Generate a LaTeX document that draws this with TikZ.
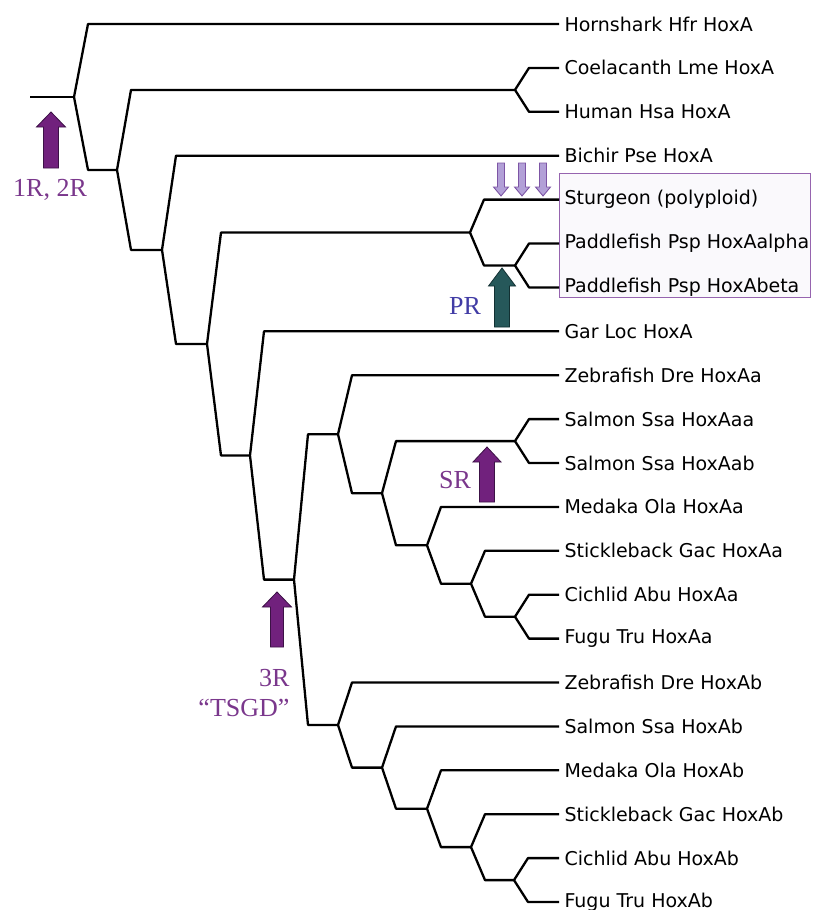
\documentclass[tikz,border=0pt]{standalone}
\usepackage{fontspec}
\usetikzlibrary{calc}
\newfontfamily\leaffont{DejaVu Sans}
\newfontfamily\dupfont{Liberation Serif}

\definecolor{dupviolet}{RGB}{113,33,125}
\definecolor{dupedge}{RGB}{60,18,70}
\definecolor{duptext}{RGB}{122,55,140}
\definecolor{prtext}{RGB}{65,60,165}
\definecolor{prteal}{RGB}{38,88,90}
\definecolor{predge}{RGB}{18,48,50}
\definecolor{polyfill}{RGB}{178,160,215}
\definecolor{polyedge}{RGB}{125,85,165}
\definecolor{boxedge}{RGB}{150,100,175}
\definecolor{boxfill}{RGB}{250,249,252}

\tikzset{
  tree/.style={line width=2.3pt, line join=round},
  branch/.style={to path={-- ($(\tikztostart |- \tikztotarget)+(14,0)$) -- (\tikztotarget)}},
  leaf/.style={anchor=west, inner xsep=5.5pt, inner ysep=0pt, outer sep=0pt,
    font=\leaffont\fontsize{19}{22}\selectfont},
  duplabel/.style={font=\dupfont\fontsize{26}{30}\selectfont, text=duptext, align=center},
  purplearrow/.style={fill=dupviolet, draw=dupedge, line width=0.8pt},
  tealarrow/.style={fill=prteal, draw=predge, line width=0.8pt},
  polyarrow/.style={fill=polyfill, draw=polyedge, line width=0.9pt}
}

% x, tip, head base, end, half head, half shaft
\newcommand{\duparrow}[7]{%
  \draw[#1] (#2,#3) -- (#2+#6,#4) -- (#2+#7,#4) -- (#2+#7,#5)
    -- (#2-#7,#5) -- (#2-#7,#4) -- (#2-#6,#4) -- cycle;}

\begin{document}
\begin{tikzpicture}[x=1pt,y=-1pt]
\useasboundingbox (0,0) rectangle (812,910);

% box round the paddlefish/sturgeon clade
\draw[draw=boxedge, fill=boxfill, line width=0.9pt] (559,173) rectangle (810,297);

% leaves
\foreach \name [count=\i] in {Hornshark Hfr HoxA, Coelacanth Lme HoxA, Human Hsa HoxA,
    Bichir Pse HoxA, {Sturgeon (polyploid)}, Paddlefish Psp HoxAalpha, Paddlefish Psp HoxAbeta,
    Gar Loc HoxA, Zebrafish Dre HoxAa, Salmon Ssa HoxAaa, Salmon Ssa HoxAab, Medaka Ola HoxAa,
    Stickleback Gac HoxAa, Cichlid Abu HoxAa, Fugu Tru HoxAa, Zebrafish Dre HoxAb,
    Salmon Ssa HoxAb, Medaka Ola HoxAb, Stickleback Gac HoxAb, Cichlid Abu HoxAb, Fugu Tru HoxAb}
    \node[leaf] (l\i) at (559,{24+43.9*(\i-1)}) {\name};

% inner nodes
\coordinate (stub) at (30,97);
\coordinate (root) at (74,97);
\coordinate (n1) at (117,169.9);
\coordinate (tetra) at (515,89.9);
\coordinate (n2) at (162,249.9);
\coordinate (n3) at (207,344);
\coordinate (acip) at (470,232.5);
\coordinate (paddle) at (515,265.5);
\coordinate (n4) at (250,455.5);
\coordinate (tsgd) at (294,579.6);
\coordinate (aa) at (338,434.2);
\coordinate (aa2) at (382,493.2);
\coordinate (salmA) at (515,441.1);
\coordinate (aa3) at (427,545.3);
\coordinate (aa4) at (471,583.7);
\coordinate (aa5) at (515,616.7);
\coordinate (ab) at (338,725);
\coordinate (ab2) at (382,767.6);
\coordinate (ab3) at (427,808.7);
\coordinate (ab4) at (471,847.1);
\coordinate (ab5) at (514,880.1);

% branches
\draw[tree] (stub) -- (root);
\draw[tree] (root) to[branch] (l1) (root) to[branch] (n1);
\draw[tree] (n1) to[branch] (tetra) (n1) to[branch] (n2);
\draw[tree] (tetra) to[branch] (l2) (tetra) to[branch] (l3);
\draw[tree] (n2) to[branch] (l4) (n2) to[branch] (n3);
\draw[tree] (n3) to[branch] (acip) (n3) to[branch] (n4);
\draw[tree] (acip) to[branch] (l5) (acip) to[branch] (paddle);
\draw[tree] (paddle) to[branch] (l6) (paddle) to[branch] (l7);
\draw[tree] (n4) to[branch] (l8) (n4) to[branch] (tsgd);
\draw[tree] (tsgd) to[branch] (aa) (tsgd) to[branch] (ab);
\draw[tree] (aa) to[branch] (l9) (aa) to[branch] (aa2);
\draw[tree] (aa2) to[branch] (salmA) (aa2) to[branch] (aa3);
\draw[tree] (salmA) to[branch] (l10) (salmA) to[branch] (l11);
\draw[tree] (aa3) to[branch] (l12) (aa3) to[branch] (aa4);
\draw[tree] (aa4) to[branch] (l13) (aa4) to[branch] (aa5);
\draw[tree] (aa5) to[branch] (l14) (aa5) to[branch] (l15);
\draw[tree] (ab) to[branch] (l16) (ab) to[branch] (ab2);
\draw[tree] (ab2) to[branch] (l17) (ab2) to[branch] (ab3);
\draw[tree] (ab3) to[branch] (l18) (ab3) to[branch] (ab4);
\draw[tree] (ab4) to[branch] (l19) (ab4) to[branch] (ab5);
\draw[tree] (ab5) to[branch] (l20) (ab5) to[branch] (l21);

% duplication arrows
\duparrow{purplearrow}{51}{112}{127}{168}{14.5}{7.5}
\duparrow{purplearrow}{277}{592}{607}{647}{14.5}{6.5}
\duparrow{purplearrow}{487}{447}{462}{502}{14}{7.5}
\duparrow{tealarrow}{502}{268}{286}{327}{13.5}{7.5}
\foreach \x in {501,522,543}{
    \duparrow{polyarrow}{\x}{196}{187}{163}{7.5}{3.5}
}

% labels
\node[duplabel] (lab12) at (50,190) {1R, 2R};
\node[duplabel, align=right, anchor=east] (lab3) at (293,693) {3R\\“TSGD”};
\node[duplabel] (labsr) at (455,480) {SR};
\node[duplabel, text=prtext] (labpr) at (465,306) {PR};

\end{tikzpicture}
\end{document}
